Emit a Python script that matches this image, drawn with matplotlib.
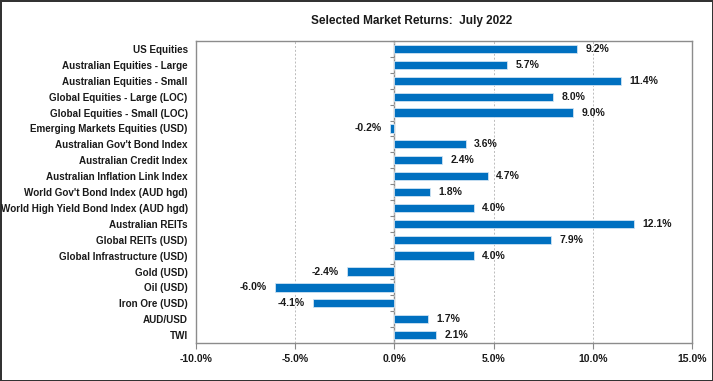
import matplotlib
matplotlib.use("Agg")
import matplotlib.pyplot as plt
from matplotlib.ticker import FuncFormatter, MultipleLocator

# ── Data ────────────────────────────────────────────────────────────────
categories = [
    "US Equities",
    "Australian Equities - Large",
    "Australian Equities - Small",
    "Global Equities - Large (LOC)",
    "Global Equities - Small (LOC)",
    "Emerging Markets Equities (USD)",
    "Australian Gov't Bond Index",
    "Australian Credit Index",
    "Australian Inflation Link Index",
    "World Gov't Bond Index (AUD hgd)",
    "World High Yield Bond Index (AUD hgd)",
    "Australian REITs",
    "Global REITs (USD)",
    "Global Infrastructure (USD)",
    "Gold (USD)",
    "Oil (USD)",
    "Iron Ore (USD)",
    "AUD/USD",
    "TWI",
]
returns = [9.2, 5.7, 11.4, 8.0, 9.0, -0.2, 3.6, 2.4, 4.7, 1.8,
           4.0, 12.1, 7.9, 4.0, -2.4, -6.0, -4.1, 1.7, 2.1]
title = "Selected Market Returns:  July 2022"

BAR_BLUE = "#0070C0"
plt.rcParams["font.family"] = ["Liberation Sans", "DejaVu Sans"]

fig = plt.figure(figsize=(7.13, 3.81), dpi=100)
fig.patch.set_facecolor("white")
fig.patch.set_edgecolor("#333333")
fig.patch.set_linewidth(2.0)
ax = fig.add_axes([0.275, 0.0997, 0.6955, 0.7925])

pos = list(range(len(categories)))
bars = ax.barh(pos, returns, height=0.52, color=BAR_BLUE,
               edgecolor="#cfe3f3", linewidth=0.6, zorder=3)
ax.bar_label(bars, labels=[f"{v:.1f}%" for v in returns], padding=6,
             fontsize=7.5, fontweight="bold", color="#1a1a1a")

ax.set_xlim(-10, 15)
ax.set_ylim(len(categories) - 0.5, -0.5)
ax.xaxis.set_major_locator(MultipleLocator(5))
ax.xaxis.set_major_formatter(FuncFormatter(lambda v, _: f"{v:.1f}%"))
ax.set_yticks(pos)
ax.set_yticklabels(categories)

ax.grid(True, axis="x", color="#bbbbbb", lw=0.7, ls=(0, (2, 2)), zorder=0)
ax.tick_params(axis="y", length=0, pad=6, labelsize=7.1)
ax.tick_params(axis="x", length=4, width=0.8, color="#888888",
               pad=4, labelsize=7.5)
for lab in ax.get_xticklabels() + ax.get_yticklabels():
    lab.set_fontweight("bold")
    lab.set_color("#1a1a1a")
for sp in ax.spines.values():
    sp.set_color("#8c8c8c")
    sp.set_linewidth(1.0)

# zero line with category-boundary ticks
x0, x1 = ax.get_xlim()
zero_ax = ax.secondary_yaxis((0 - x0) / (x1 - x0))
zero_ax.set_yticks([p + 0.5 for p in pos[:-1]] + [-0.5])
zero_ax.tick_params(axis="y", length=3, width=0.8, color="#888888",
                    labelleft=False, labelright=False)
zero_ax.spines["left"].set_color("#8c8c8c")
zero_ax.spines["left"].set_linewidth(1.0)

fig.text(0.578, 0.945, title, ha="center", va="center",
         fontsize=8.5, fontweight="bold", color="#1a1a1a")

fig.savefig("out.png", dpi=100, facecolor=fig.get_facecolor(),
            edgecolor=fig.get_edgecolor())
